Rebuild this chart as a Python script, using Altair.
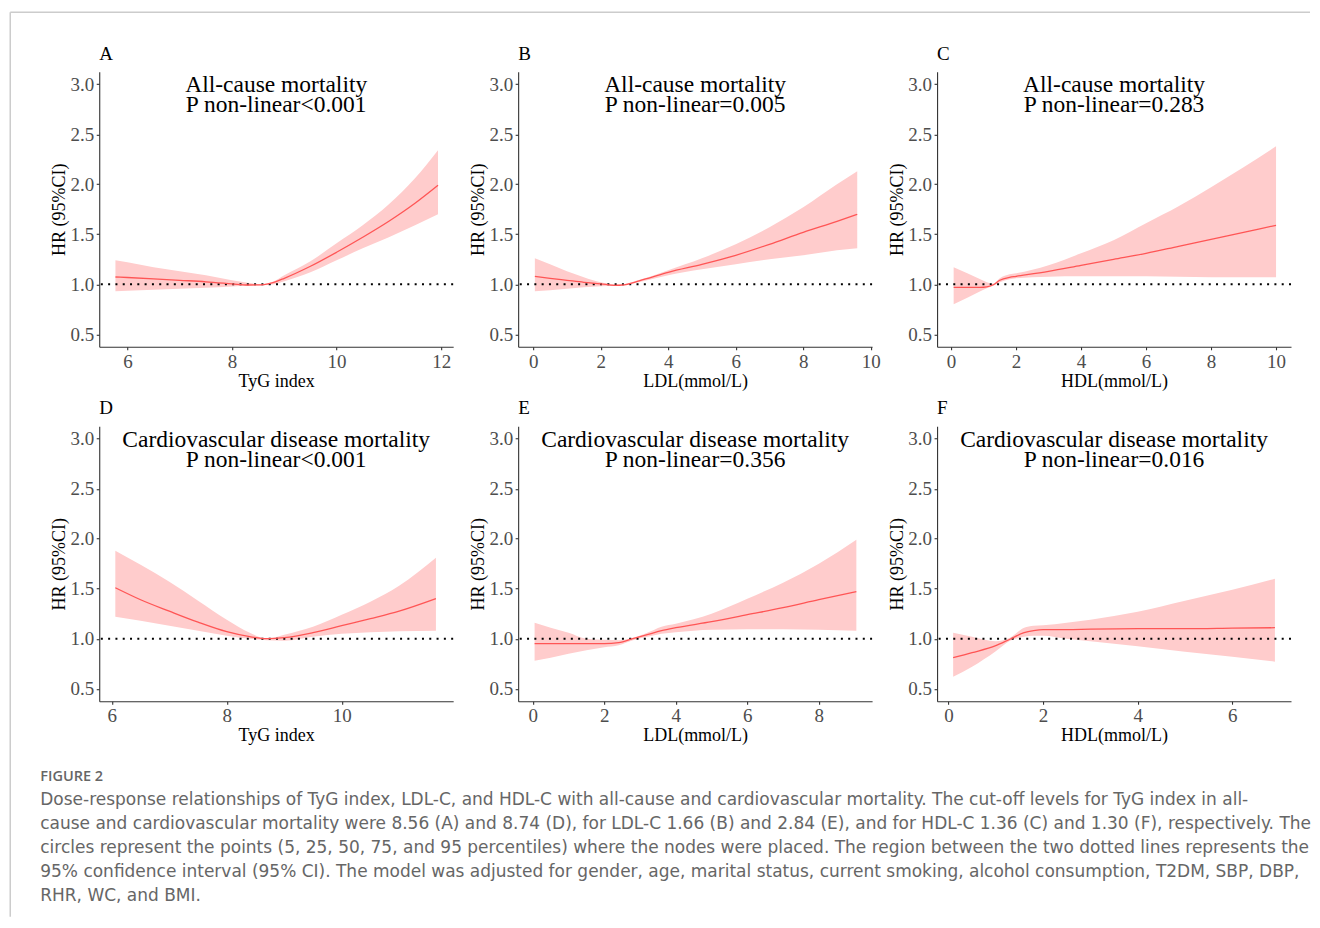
import altair as alt
import pandas as pd

# ---------------- data ----------------
# Panel A: TyG index, all-cause mortality
a_x  = [5.77, 6.0, 6.5, 7.0, 7.5, 8.0, 8.3, 8.56, 8.8, 9.0, 9.5, 10.0, 10.5, 11.0, 11.5, 11.94]
a_hr = [1.073, 1.068, 1.055, 1.04, 1.025, 1.005, 0.993, 0.995, 1.02, 1.06, 1.18, 1.32, 1.47, 1.63, 1.81, 1.99]
a_lo = [0.93, 0.935, 0.945, 0.955, 0.965, 0.978, 0.985, 0.99, 1.0, 1.03, 1.12, 1.24, 1.36, 1.47, 1.59, 1.70]
a_hi = [1.24, 1.22, 1.17, 1.13, 1.09, 1.04, 1.015, 1.0, 1.03, 1.09, 1.23, 1.41, 1.59, 1.80, 2.06, 2.34]

# Panel B: LDL, all-cause mortality
b_x  = [0.05, 0.5, 1.0, 1.5, 2.0, 2.4, 2.7, 3.0, 3.5, 4.0, 5.0, 6.0, 7.0, 8.0, 9.0, 9.6]
b_hr = [1.08, 1.06, 1.04, 1.02, 1.005, 0.99, 0.995, 1.02, 1.07, 1.12, 1.20, 1.29, 1.40, 1.52, 1.63, 1.70]
b_lo = [0.93, 0.94, 0.955, 0.97, 0.98, 0.985, 0.99, 1.01, 1.05, 1.09, 1.15, 1.20, 1.25, 1.29, 1.34, 1.36]
b_hi = [1.26, 1.20, 1.13, 1.07, 1.02, 1.0, 0.998, 1.03, 1.08, 1.14, 1.26, 1.40, 1.57, 1.77, 2.00, 2.13]

# Panel C: HDL, all-cause mortality
c_x  = [0.08, 0.5, 0.9, 1.1, 1.3, 1.5, 1.8, 2.0, 3.0, 4.0, 5.0, 6.0, 7.0, 8.0, 9.0, 10.0]
c_hr = [0.97, 0.97, 0.97, 0.975, 0.995, 1.04, 1.07, 1.08, 1.13, 1.19, 1.25, 1.31, 1.38, 1.45, 1.52, 1.59]
c_lo = [0.80, 0.865, 0.93, 0.96, 0.985, 1.02, 1.05, 1.06, 1.075, 1.08, 1.08, 1.08, 1.075, 1.07, 1.07, 1.07]
c_hi = [1.17, 1.11, 1.05, 1.02, 1.005, 1.06, 1.10, 1.11, 1.19, 1.31, 1.44, 1.61, 1.78, 1.97, 2.17, 2.38]

# Panel D: TyG index, CVD mortality
d_x  = [6.06, 6.5, 7.0, 7.5, 8.0, 8.4, 8.7, 9.0, 9.5, 10.0, 10.5, 11.0, 11.64]
d_hr = [1.51, 1.39, 1.275, 1.165, 1.07, 1.02, 1.0, 1.01, 1.06, 1.13, 1.20, 1.275, 1.40]
d_lo = [1.22, 1.18, 1.13, 1.08, 1.03, 1.0, 0.985, 0.98, 1.02, 1.05, 1.065, 1.075, 1.08]
d_hi = [1.88, 1.74, 1.57, 1.38, 1.19, 1.06, 1.0, 1.04, 1.12, 1.24, 1.37, 1.53, 1.81]

# Panel E: LDL, CVD mortality
e_x  = [0.05, 0.5, 1.0, 1.5, 2.0, 2.4, 2.8, 3.2, 3.6, 4.0, 5.0, 6.0, 7.0, 8.0, 9.05]
e_hr = [0.95, 0.95, 0.95, 0.95, 0.95, 0.96, 1.0, 1.04, 1.08, 1.11, 1.17, 1.24, 1.31, 1.39, 1.47]
e_lo = [0.78, 0.81, 0.85, 0.885, 0.915, 0.935, 0.985, 1.02, 1.05, 1.065, 1.09, 1.095, 1.095, 1.09, 1.08]
e_hi = [1.16, 1.11, 1.06, 1.0, 0.99, 0.985, 1.01, 1.06, 1.12, 1.15, 1.25, 1.40, 1.56, 1.75, 1.99]

# Panel F: HDL, CVD mortality
f_x  = [0.1, 0.5, 1.0, 1.3, 1.6, 1.8, 2.0, 2.5, 3.0, 4.0, 5.0, 6.0, 6.9]
f_hr = [0.81, 0.86, 0.93, 0.995, 1.06, 1.08, 1.09, 1.09, 1.095, 1.10, 1.10, 1.105, 1.11]
f_lo = [0.62, 0.72, 0.875, 0.98, 1.02, 1.03, 1.03, 1.0, 0.975, 0.925, 0.87, 0.82, 0.77]
f_hi = [1.06, 1.02, 0.975, 1.01, 1.11, 1.13, 1.135, 1.16, 1.19, 1.27, 1.38, 1.49, 1.60]

# axes
Y_DOMAIN = [0.375, 3.125]
Y_TICKS = [0.5, 1.0, 1.5, 2.0, 2.5, 3.0]
REF_HR = 1.0
TEXT_Y = [2.92, 2.72]

panel_letters = ["A", "B", "C", "D", "E", "F"]
x_titles = ["TyG index", "LDL(mmol/L)", "HDL(mmol/L)", "TyG index", "LDL(mmol/L)", "HDL(mmol/L)"]
x_domains = [[5.46, 12.23], [-0.445, 10.04], [-0.43, 10.46], [5.78, 11.94], [-0.41, 9.49], [-0.24, 7.24]]
x_ticks = [[6, 8, 10, 12], [0, 2, 4, 6, 8, 10], [0, 2, 4, 6, 8, 10], [6, 8, 10], [0, 2, 4, 6, 8], [0, 2, 4, 6]]
titles_1 = ["All-cause mortality"] * 3 + ["Cardiovascular disease mortality"] * 3
titles_2 = ["P non-linear<0.001", "P non-linear=0.005", "P non-linear=0.283",
            "P non-linear<0.001", "P non-linear=0.356", "P non-linear=0.016"]

caption_lines = [
    "FIGURE 2",
    "Dose-response relationships of TyG index, LDL-C, and HDL-C with all-cause and cardiovascular mortality. The cut-off levels for TyG index in all-",
    "cause and cardiovascular mortality were 8.56 (A) and 8.74 (D), for LDL-C 1.66 (B) and 2.84 (E), and for HDL-C 1.36 (C) and 1.30 (F), respectively. The",
    "circles represent the points (5, 25, 50, 75, and 95 percentiles) where the nodes were placed. The region between the two dotted lines represents the",
    "95% confidence interval (95% CI). The model was adjusted for gender, age, marital status, current smoking, alcohol consumption, T2DM, SBP, DBP,",
    "RHR, WC, and BMI.",
]

# ---------------- style ----------------
SERIF = "Liberation Serif"
SANS = "DejaVu Sans"
HEAD_FONT = "Open Sans"
BAND = "#FFCCCC"
LINE = "#FF5555"
CAP_GRAY = "#666666"
PW, PH = 354, 275


def panel(i, xs, hr, lo, hi):
    df = pd.DataFrame({"x": xs, "hr": hr, "lo": lo, "hi": hi})
    xsc = alt.Scale(domain=x_domains[i], nice=False, zero=False)
    ysc = alt.Scale(domain=Y_DOMAIN, nice=False, zero=False)
    xax = alt.Axis(values=x_ticks[i], format="d", title=x_titles[i])
    yax = alt.Axis(values=Y_TICKS, format=".1f", title="HR (95%CI)")

    band = alt.Chart(df).mark_area(color=BAND, opacity=1, interpolate="monotone").encode(
        x=alt.X("x:Q", scale=xsc, axis=xax),
        y=alt.Y("lo:Q", scale=ysc, axis=yax),
        y2="hi:Q",
    )
    ref = alt.Chart(pd.DataFrame({"y": [REF_HR]})).mark_rule(
        color="black", strokeWidth=2, strokeDash=[2, 5.3]
    ).encode(y=alt.Y("y:Q", scale=ysc, axis=yax))
    line = alt.Chart(df).mark_line(color=LINE, strokeWidth=1.3, interpolate="monotone").encode(
        x=alt.X("x:Q", scale=xsc, axis=xax),
        y=alt.Y("hr:Q", scale=ysc, axis=yax),
    )
    mid = (x_domains[i][0] + x_domains[i][1]) / 2
    lab = pd.DataFrame({"x": [mid, mid], "y": TEXT_Y, "t": [titles_1[i], titles_2[i]]})
    txt = alt.Chart(lab).mark_text(
        font=SERIF, fontSize=23.5, align="center", baseline="alphabetic", color="black"
    ).encode(
        x=alt.X("x:Q", scale=xsc, axis=xax),
        y=alt.Y("y:Q", scale=ysc, axis=yax),
        text="t:N",
    )
    return alt.layer(band, ref, line, txt).properties(
        width=PW, height=PH,
        title=alt.TitleParams(
            panel_letters[i], anchor="start", frame="group", font=SERIF, fontSize=19,
            fontWeight="normal", color="black", baseline="bottom", offset=0, dy=11,
        ),
    )


panels = [
    panel(0, a_x, a_hr, a_lo, a_hi),
    panel(1, b_x, b_hr, b_lo, b_hi),
    panel(2, c_x, c_hr, c_lo, c_hi),
    panel(3, d_x, d_hr, d_lo, d_hi),
    panel(4, e_x, e_hr, e_lo, e_hi),
    panel(5, f_x, f_hr, f_lo, f_hi),
]

# caption block (sits in the first column, below the panels)
cap_df = pd.DataFrame({"row": list(range(len(caption_lines))), "text": caption_lines})
cap_scale = alt.Scale(domain=[0, 5], reverse=True, nice=False, zero=False)
head = alt.Chart(cap_df.iloc[:1]).mark_text(
    align="left", baseline="alphabetic", font=HEAD_FONT, fontSize=14.5, fontWeight=600, color=CAP_GRAY
).encode(x=alt.value(-59), y=alt.Y("row:Q", scale=cap_scale, axis=None), text="text:N")
body = alt.Chart(cap_df.iloc[1:]).mark_text(
    align="left", baseline="alphabetic", font=SANS, fontSize=17, color=CAP_GRAY
).encode(x=alt.value(-59), y=alt.Y("row:Q", scale=cap_scale, axis=None), text="text:N")
one = pd.DataFrame({"k": [0]})
frame_top = alt.Chart(one).mark_rule(color="#cccccc", strokeWidth=1.5).encode(
    x=alt.value(-89), x2=alt.value(1211), y=alt.value(-768.5)
)
frame_left = alt.Chart(one).mark_rule(color="#cccccc", strokeWidth=1.5).encode(
    x=alt.value(-89), y=alt.value(-768.5), y2=alt.value(136)
)
caption = alt.layer(frame_top, frame_left, head, body).properties(width=PW, height=120)

chart = alt.concat(
    *panels, caption, columns=3, spacing={"row": 79.5, "column": 65}, bounds="flush", align="each"
).properties(
    padding={"left": 1.25, "top": 2.75, "right": 0, "bottom": 0}
).configure_view(stroke=None).configure_axis(
    grid=False,
    domainColor="#333333", domainWidth=1.1,
    tickColor="#333333", tickWidth=1.1, tickSize=3,
    labelFont=SERIF, labelFontSize=19, labelColor="#4D4D4D", labelPadding=2.5,
    titleFont=SERIF, titleFontSize=18, titleFontWeight="normal", titleColor="black",
    titlePadding=1,
)

chart.save("out.html", embed_options={"renderer": "svg", "actions": False})
